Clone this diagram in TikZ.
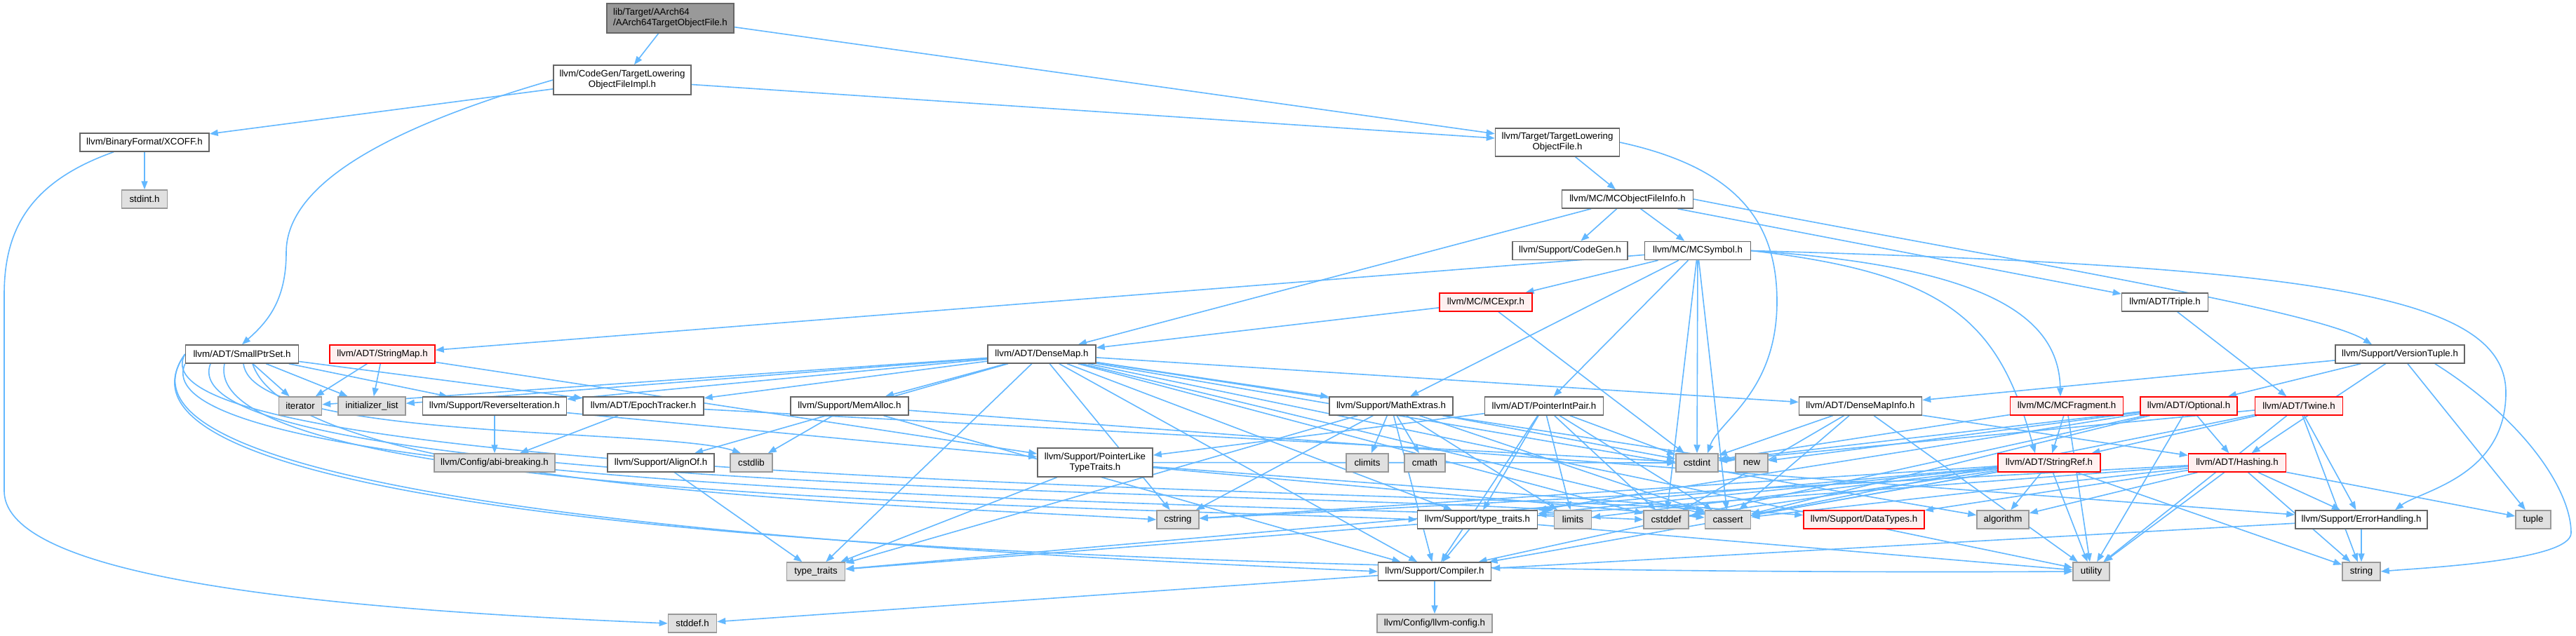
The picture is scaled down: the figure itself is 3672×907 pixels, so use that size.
\documentclass[tikz,border=0pt]{standalone}
\usepackage{fontspec}
\setmainfont{Liberation Sans}
\usetikzlibrary{arrows.meta}
\pgfdeclarelayer{bglayer}
\pgfdeclarelayer{edgelayer}
\pgfsetlayers{bglayer,edgelayer,main}
\definecolor{edgeblue}{HTML}{63B8FF}
\definecolor{wborder}{HTML}{666666}
\definecolor{gfill}{HTML}{E0E0E0}
\definecolor{gborder}{HTML}{999999}
\definecolor{rfill}{HTML}{FFF0F0}
\definecolor{rootfill}{HTML}{999999}
\begin{document}
\begin{tikzpicture}[x=1pt,y=-1pt,
  nb/.style={rectangle, inner sep=0pt, minimum height=26pt, line width=1.5pt, font=\fontsize{13.3}{15}\selectfont, align=center},
  wb/.style={nb, draw=wborder, fill=white},
  gb/.style={nb, draw=gborder, fill=gfill},
  rb/.style={nb, draw=red, fill=rfill},
  rootb/.style={nb, draw=wborder, fill=rootfill, align=left},
  dep/.style={draw=edgeblue, line width=1.6pt, -{Triangle[length=12pt,width=9pt]}}]
\begin{pgfonlayer}{bglayer}
\path[use as bounding box, fill=white] (0,0) rectangle (3672,907);
\end{pgfonlayer}
% nodes
\node[rootb, minimum width=181pt, minimum height=42pt] (root) at (955.5,26) {lib/Target/AArch64\\/AArch64TargetObjectFile.h};
\node[wb, minimum width=196pt, minimum height=42pt] (impl) at (887,114) {llvm/CodeGen/TargetLowering\\ObjectFileImpl.h};
\node[wb, minimum width=184pt] (xcoff) at (206,203) {llvm/BinaryFormat/XCOFF.h};
\node[gb, minimum width=65pt] (stdint) at (206,284) {stdint.h};
\node[wb, minimum width=177pt, minimum height=40pt] (tlof) at (2220,203) {llvm/Target/TargetLowering\\ObjectFile.h};
\node[wb, minimum width=187pt] (mcofi) at (2320,284) {llvm/MC/MCObjectFileInfo.h};
\node[wb, minimum width=164pt] (codegen) at (2238,357.5) {llvm/Support/CodeGen.h};
\node[wb, minimum width=151pt] (mcsym) at (2420,357.5) {llvm/MC/MCSymbol.h};
\node[rb, minimum width=132pt] (mcexpr) at (2118,431) {llvm/MC/MCExpr.h};
\node[wb, minimum width=123pt] (triple) at (3086,431) {llvm/ADT/Triple.h};
\node[wb, minimum width=161pt] (sptr) at (345,505) {llvm/ADT/SmallPtrSet.h};
\node[rb, minimum width=150pt] (smap) at (545,505) {llvm/ADT/StringMap.h};
\node[wb, minimum width=154pt] (dmap) at (1485,505) {llvm/ADT/DenseMap.h};
\node[wb, minimum width=184pt] (vtuple) at (3421,505) {llvm/Support/VersionTuple.h};
\node[gb, minimum width=61pt] (iter) at (428,579) {iterator};
\node[gb, minimum width=96pt] (initl) at (530,579) {initializer\_list};
\node[wb, minimum width=205pt] (reviter) at (705,579) {llvm/Support/ReverseIteration.h};
\node[wb, minimum width=172pt] (epoch) at (917,579) {llvm/ADT/EpochTracker.h};
\node[wb, minimum width=168pt] (memalloc) at (1211,579) {llvm/Support/MemAlloc.h};
\node[wb, minimum width=176pt] (mathx) at (1983,579) {llvm/Support/MathExtras.h};
\node[wb, minimum width=169pt] (pip) at (2201,579) {llvm/ADT/PointerIntPair.h};
\node[wb, minimum width=175pt] (dmi) at (2652,579) {llvm/ADT/DenseMapInfo.h};
\node[rb, minimum width=161pt] (mcfrag) at (2946,579) {llvm/MC/MCFragment.h};
\node[rb, minimum width=138pt] (optional) at (3120,579) {llvm/ADT/Optional.h};
\node[rb, minimum width=125pt] (twine) at (3277,579) {llvm/ADT/Twine.h};
\node[gb, minimum width=172pt] (abi) at (705,660) {llvm/Config/abi-breaking.h};
\node[wb, minimum width=152pt] (alignof) at (942,660) {llvm/Support/AlignOf.h};
\node[gb, minimum width=60pt] (cstdlib) at (1071,660) {cstdlib};
\node[wb, minimum width=164pt, minimum height=41pt] (plt) at (1561,659.5) {llvm/Support/PointerLike\\TypeTraits.h};
\node[gb, minimum width=60pt] (climits) at (1949,660) {climits};
\node[gb, minimum width=58pt] (cmath) at (2031,660) {cmath};
\node[gb, minimum width=60pt] (cstdint) at (2419,660) {cstdint};
\node[gb, minimum width=46pt] (new) at (2497,660) {new};
\node[rb, minimum width=146pt] (sref) at (2921,660) {llvm/ADT/StringRef.h};
\node[rb, minimum width=139pt] (hashing) at (3189,660) {llvm/ADT/Hashing.h};
\node[gb, minimum width=60pt] (cstring) at (1679,741) {cstring};
\node[wb, minimum width=171pt] (stt) at (2106,741) {llvm/Support/type\_traits.h};
\node[gb, minimum width=53pt] (limits) at (2242,741) {limits};
\node[gb, minimum width=64pt] (cstddef) at (2375,741) {cstddef};
\node[gb, minimum width=65pt] (cassert) at (2463,741) {cassert};
\node[rb, minimum width=172pt] (dtypes) at (2657,741) {llvm/Support/DataTypes.h};
\node[gb, minimum width=74pt] (algo) at (2855,741) {algorithm};
\node[wb, minimum width=188pt] (errh) at (3366,741) {llvm/Support/ErrorHandling.h};
\node[gb, minimum width=50pt] (tuple) at (3611,741) {tuple};
\node[gb, minimum width=83pt] (typetraits) at (1163,815) {type\_traits};
\node[wb, minimum width=161pt] (compiler) at (2045,815) {llvm/Support/Compiler.h};
\node[gb, minimum width=52pt] (utility) at (2981,815) {utility};
\node[gb, minimum width=54pt] (string) at (3366,815) {string};
\node[gb, minimum width=69pt] (stddef) at (987,889) {stddef.h};
\node[gb, minimum width=164pt] (llvmcfg) at (2045,889) {llvm/Config/llvm-config.h};
% edges
\begin{pgfonlayer}{edgelayer}
\foreach \a/\b in {root/impl, root/tlof, impl/tlof, impl/xcoff, xcoff/stdint, tlof/mcofi,
  mcofi/dmap, mcofi/codegen, mcofi/mcsym, mcofi/triple,
  mcsym/smap, mcsym/mcexpr, mcsym/mathx, mcsym/pip, mcsym/cstdint, mcsym/cassert, mcsym/cstddef,
  mcexpr/dmap, mcexpr/cstdint, triple/twine,
  vtuple/dmi, vtuple/optional, vtuple/hashing, vtuple/tuple,
  sptr/iter, sptr/initl, sptr/reviter, sptr/epoch,
  smap/iter, smap/initl, smap/plt,
  dmap/iter, dmap/initl, dmap/reviter, dmap/epoch, dmap/memalloc, dmap/alignof, dmap/mathx, dmap/dmi,
  dmap/stt, dmap/compiler, dmap/algo, dmap/cassert, dmap/cstddef, dmap/cstring, dmap/new, dmap/typetraits, dmap/utility,
  reviter/abi, reviter/plt, epoch/abi, epoch/cstdint,
  memalloc/cstdlib, memalloc/compiler, memalloc/errh, alignof/typetraits,
  mathx/climits, mathx/cmath, mathx/cstdint, mathx/cstring, mathx/limits, mathx/cassert, mathx/compiler, mathx/typetraits,
  pip/plt, pip/stt, pip/limits, pip/compiler, pip/cstdint, pip/cassert, pip/cstddef,
  dmi/cstdint, dmi/cassert, dmi/cstddef, dmi/hashing, dmi/utility,
  mcfrag/sref, mcfrag/cstdint, mcfrag/utility,
  optional/hashing, optional/new, optional/cassert, optional/compiler, optional/stt, optional/utility, optional/cstdint,
  twine/sref, twine/errh, twine/cstdint, twine/cassert, twine/string, twine/utility,
  plt/dtypes, plt/cassert, plt/cstdint, plt/typetraits,
  sref/algo, sref/cassert, sref/cstddef, sref/cstring, sref/limits, sref/string, sref/stt, sref/utility, sref/compiler, sref/typetraits,
  hashing/dtypes, hashing/errh, hashing/algo, hashing/cassert, hashing/cstring, hashing/string, hashing/tuple, hashing/utility, hashing/stt,
  stt/compiler, stt/typetraits, stt/utility, errh/compiler, errh/string, compiler/llvmcfg, compiler/stddef}
  \draw[dep] (\a) -- (\b);
% curved edges
\draw[dep] (mcofi.east) .. controls (2800,360) and (3300,440) .. ([xshift=-40pt]vtuple.north);
\draw[dep] (impl.west) .. controls (560,180) and (408,260) .. (408,360) .. controls (408,430) and (380,460) .. (sptr.north);
\draw[dep] ([xshift=-44pt]xcoff.south) .. controls (40,260) and (6,330) .. (6,420) -- (6,700) .. controls (6,830) and (500,870) .. (stddef.west);
\draw[dep] (tlof.east) .. controls (2480,240) and (2533,320) .. (2533,430) .. controls (2533,560) and (2450,600) .. ([xshift=15pt]cstdint.north);
\draw[dep] (mcsym.east) .. controls (2780,390) and (2850,460) .. ([xshift=-20pt]sref.north);
\draw[dep] (mcsym.east) .. controls (2830,380) and (2935,450) .. ([xshift=-9pt]mcfrag.north);
\draw[dep] (mcsym.east) .. controls (3300,380) and (3572,420) .. (3572,560) .. controls (3572,680) and (3450,700) .. ([xshift=48pt]errh.north);
\draw[dep] ([xshift=50pt]vtuple.south) .. controls (3600,600) and (3665,700) .. (3665,760) .. controls (3665,800) and (3450,810) .. (string.east);
\draw[dep] ([xshift=2pt]sptr.south) .. controls (360,630) and (950,610) .. ([xshift=-15pt]cstdlib.north);
\draw[dep] ([xshift=15pt]sptr.south) .. controls (420,700) and (1300,720) .. (cstring.west);
\draw[dep] ([xshift=-25pt]sptr.south) .. controls (280,710) and (1500,720) .. (stt.west);
\draw[dep] ([xshift=-45pt]sptr.south) .. controls (230,700) and (1800,700) .. (limits.north west);
\draw[dep] (sptr.south west) .. controls (180,710) and (1900,720) .. (cstddef.west);
\draw[dep] (sptr.west) .. controls (160,690) and (2100,700) .. (cassert.north west);
\draw[dep] (sptr.west) .. controls (100,730) and (1400,790) .. (compiler.west);
\draw[dep] (sptr.west) .. controls (60,790) and (2000,820) .. (utility.west);
\end{pgfonlayer}
\end{tikzpicture}
\end{document}
